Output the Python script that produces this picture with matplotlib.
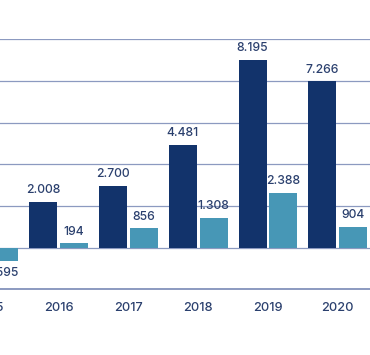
import matplotlib.pyplot as plt

anos = ["2015", "2016", "2017", "2018", "2019", "2020"]
serie_escura = [1500, 2008, 2700, 4481, 8195, 7266]
serie_clara = [-595, 194, 856, 1308, 2388, 904]

cor_escura = "#12336b"
cor_clara = "#4797b6"
cor_texto = "#2b406e"
cor_grade = "#8c9ac0"

plt.rcParams["font.family"] = ["Inter", "DejaVu Sans"]


def rotulo(v):
    return f"{v:,}".replace(",", ".")


fig = plt.figure(figsize=(3.7, 3.55), dpi=100)
# o grafico original esta cortado nas bordas, por isso o eixo passa da figura
ax = fig.add_axes([-0.124, 0.1848, 1.131, 0.7048])

x = list(range(len(anos)))
largura = 0.40
desloc = 0.22

ax.bar([i - desloc for i in x], serie_escura, largura, color=cor_escura, zorder=3)
ax.bar([i + desloc for i in x], serie_clara, largura, color=cor_clara, zorder=3)

for i in x:
    for v, d in ((serie_escura[i], -desloc), (serie_clara[i], desloc)):
        if v >= 0:
            ax.annotate(rotulo(v), (i + d, v), xytext=(0, 4), textcoords="offset points",
                        ha="center", va="bottom", fontsize=8.8, color=cor_texto,
                        fontweight="medium")
        else:
            ax.annotate(rotulo(v), (i + d, v), xytext=(0, -4), textcoords="offset points",
                        ha="center", va="top", fontsize=8.8, color=cor_texto,
                        fontweight="medium")

ax.set_xlim(-0.5, 5.5)
ax.set_ylim(-1820, 9100)
ax.set_yticks([-1820 + 1820 * k for k in range(7)])
ax.yaxis.grid(True, color=cor_grade, linewidth=0.9, zorder=0)
ax.set_xticks(x)
ax.set_xticklabels(anos, fontsize=9.2, color=cor_texto, fontweight="medium")
ax.tick_params(axis="x", length=0, pad=9)
ax.tick_params(axis="y", length=0, labelleft=False)
for lado in ("top", "left", "right"):
    ax.spines[lado].set_visible(False)
ax.spines["bottom"].set_color(cor_grade)
ax.spines["bottom"].set_linewidth(1.4)

fig.savefig("out.png", dpi=100)
